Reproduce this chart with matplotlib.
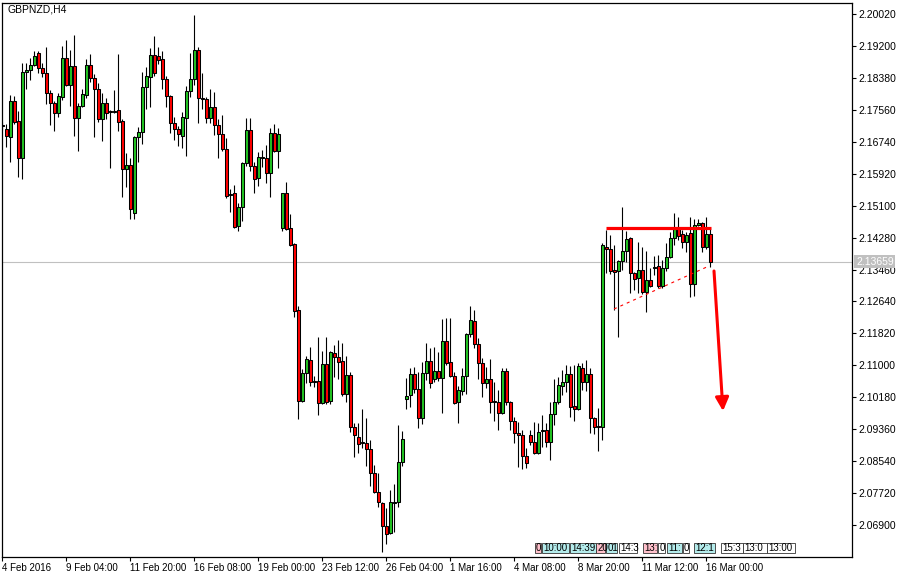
import numpy as np
import matplotlib
matplotlib.use("Agg")
import matplotlib.pyplot as plt
from matplotlib.patches import Rectangle
import matplotlib.transforms as mtransforms

plt.rcParams['font.family'] = ['Liberation Sans', 'DejaVu Sans']

# GBPNZD H4 candles (4 Feb 2016 .. 16 Mar 2016)
opens = [
    2.17170, 2.17067, 2.16862, 2.17786, 2.17273, 2.16323, 2.18531, 2.18582, 2.18710, 2.19018,
    2.18633, 2.18505, 2.17991, 2.17735, 2.17478, 2.17889, 2.18890, 2.18197, 2.18685, 2.17350,
    2.17658, 2.17940, 2.18710, 2.18377, 2.18094, 2.17324, 2.17735, 2.17529, 2.17504, 2.17555,
    2.17273, 2.16041, 2.16143, 2.14911, 2.16862, 2.16990, 2.18145, 2.18402, 2.18967, 2.18941,
    2.18864, 2.18351, 2.17914, 2.17221, 2.17067, 2.16888, 2.17350, 2.18043, 2.18351, 2.19095,
    2.17863, 2.17837, 2.17350, 2.17632, 2.17170, 2.16939, 2.16554, 2.15373, 2.15424, 2.14577,
    2.15065, 2.16194, 2.17041, 2.16117, 2.15809, 2.16323, 2.16323, 2.15938, 2.16965, 2.16502,
    2.14526, 2.15424, 2.14526, 2.14115, 2.12420, 2.10084, 2.10803, 2.11137, 2.10598, 2.10598,
    2.10033, 2.11034, 2.10084, 2.11316, 2.11214, 2.11111, 2.10264, 2.10752, 2.09417, 2.09160,
    2.09031, 2.09006, 2.08852, 2.08236, 2.07748, 2.07466, 2.06875, 2.06695, 2.07466, 2.07491,
    2.08518, 2.10136, 2.10238, 2.10777, 2.10392, 2.09648, 2.10803, 2.11111, 2.10649, 2.10854,
    2.10675, 2.11625, 2.11085, 2.10726, 2.10058, 2.10341, 2.10726, 2.11804, 2.12138, 2.11548,
    2.11060, 2.10546, 2.10649, 2.10084, 2.10058, 2.09776, 2.10854, 2.10058, 2.09571, 2.09263,
    2.09211, 2.08672, 2.09211, 2.09031, 2.08749, 2.09314, 2.09340, 2.09031, 2.09750, 2.10058,
    2.10469, 2.10572, 2.10777, 2.09956, 2.09879, 2.10931, 2.10572, 2.10777, 2.09648, 2.09442,
    2.09417, 2.14038, 2.13986, 2.13447, 2.13422, 2.13678, 2.13935, 2.14269, 2.13370, 2.13242,
    2.13447, 2.12883, 2.13191, 2.13499, 2.13550, 2.13037, 2.13499, 2.13781, 2.14269, 2.14500,
    2.14372, 2.14166, 2.14397, 2.13088, 2.14603, 2.14654, 2.14038, 2.14372,
]
highs = [
    2.17247, 2.17196, 2.17940, 2.17914, 2.17529, 2.18762, 2.18762, 2.18890, 2.19070, 2.19070,
    2.18762, 2.19172, 2.18068, 2.17786, 2.17991, 2.19198, 2.19352, 2.19095, 2.19481, 2.17735,
    2.18094, 2.18864, 2.18993, 2.18479, 2.18248, 2.17991, 2.17863, 2.17555, 2.18068, 2.18993,
    2.17324, 2.16451, 2.16323, 2.16888, 2.17118, 2.18531, 2.18659, 2.19147, 2.19455, 2.19172,
    2.19070, 2.18428, 2.17940, 2.17375, 2.17144, 2.17504, 2.18171, 2.19018, 2.19994, 2.19172,
    2.18505, 2.17889, 2.18094, 2.18017, 2.17324, 2.17427, 2.16836, 2.15527, 2.15630, 2.15167,
    2.16220, 2.17350, 2.17350, 2.16220, 2.16477, 2.16528, 2.16656, 2.17093, 2.17196, 2.17093,
    2.15424, 2.15707, 2.14885, 2.14140, 2.12523, 2.10906, 2.11239, 2.11471, 2.10726, 2.11727,
    2.11368, 2.11727, 2.11368, 2.11522, 2.11650, 2.11573, 2.11239, 2.10829, 2.09519, 2.09519,
    2.09879, 2.09648, 2.09083, 2.08441, 2.08236, 2.07491, 2.07337, 2.07799, 2.07953, 2.09468,
    2.09314, 2.10675, 2.10931, 2.10957, 2.10829, 2.11085, 2.11573, 2.11445, 2.11471, 2.11342,
    2.12189, 2.12215, 2.12215, 2.10829, 2.10469, 2.10931, 2.11830, 2.12523, 2.12420, 2.11702,
    2.11188, 2.10957, 2.11162, 2.10572, 2.10367, 2.10931, 2.10931, 2.10084, 2.09673, 2.09545,
    2.09340, 2.08878, 2.09340, 2.09545, 2.09519, 2.09725, 2.09519, 2.10058, 2.10649, 2.10700,
    2.10880, 2.11008, 2.10983, 2.11008, 2.11060, 2.11060, 2.11137, 2.10931, 2.09673, 2.09904,
    2.14140, 2.14474, 2.14346, 2.14089, 2.13704, 2.15065, 2.14449, 2.14295, 2.13396, 2.14166,
    2.14038, 2.13935, 2.13499, 2.13807, 2.13832, 2.13704, 2.14140, 2.14423, 2.14911, 2.14808,
    2.14474, 2.14423, 2.14808, 2.14757, 2.14757, 2.14680, 2.14808, 2.14526,
]
lows = [
    2.17041, 2.16605, 2.16220, 2.17196, 2.15835, 2.15784, 2.18094, 2.18325, 2.18685, 2.18505,
    2.18402, 2.17709, 2.17170, 2.17016, 2.17375, 2.17812, 2.18171, 2.17658, 2.16888, 2.16502,
    2.17632, 2.17863, 2.18274, 2.16862, 2.17247, 2.16759, 2.17324, 2.16066, 2.17478, 2.17016,
    2.15321, 2.15578, 2.14757, 2.14757, 2.16220, 2.16682, 2.17581, 2.17632, 2.18428, 2.18736,
    2.18094, 2.17632, 2.16965, 2.16785, 2.16631, 2.16579, 2.16374, 2.17889, 2.18197, 2.17221,
    2.17581, 2.17221, 2.17221, 2.16913, 2.16323, 2.16502, 2.15296, 2.14936, 2.14526, 2.14449,
    2.14705, 2.16117, 2.15989, 2.15424, 2.15604, 2.16092, 2.15681, 2.15321, 2.16477, 2.16066,
    2.14449, 2.14474, 2.14063, 2.12241, 2.09622, 2.10058, 2.10546, 2.10469, 2.10444, 2.09725,
    2.10007, 2.10007, 2.10007, 2.10700, 2.10649, 2.10213, 2.10058, 2.09288, 2.08646, 2.08749,
    2.08878, 2.08415, 2.07902, 2.07722, 2.07363, 2.06208, 2.06413, 2.06670, 2.06721, 2.07363,
    2.08415, 2.09879, 2.09930, 2.10290, 2.09391, 2.09494, 2.10623, 2.10418, 2.10572, 2.10598,
    2.09776, 2.11008, 2.10700, 2.10007, 2.09519, 2.10238, 2.10264, 2.11727, 2.11445, 2.10649,
    2.10187, 2.10418, 2.09776, 2.09571, 2.09340, 2.09750, 2.09981, 2.09340, 2.09006, 2.08390,
    2.08338, 2.08364, 2.08955, 2.08724, 2.08724, 2.08903, 2.08903, 2.08569, 2.09468, 2.10007,
    2.10238, 2.10315, 2.09673, 2.09571, 2.09853, 2.10367, 2.10341, 2.09263, 2.09237, 2.08801,
    2.09083, 2.13370, 2.13345, 2.12420, 2.11727, 2.13447, 2.13653, 2.12857, 2.12934, 2.12857,
    2.12831, 2.12369, 2.13011, 2.13319, 2.12985, 2.12985, 2.13422, 2.13755, 2.14089, 2.14218,
    2.14012, 2.13909, 2.12754, 2.12780, 2.14577, 2.13909, 2.13986, 2.13524,
]
closes = [
    2.17144, 2.16888, 2.17786, 2.17247, 2.16323, 2.18531, 2.18582, 2.18710, 2.18941, 2.18633,
    2.18505, 2.17991, 2.17735, 2.17478, 2.17914, 2.18890, 2.18197, 2.18685, 2.17350, 2.17658,
    2.17966, 2.18710, 2.18377, 2.18094, 2.17324, 2.17735, 2.17478, 2.17504, 2.17529, 2.17247,
    2.16041, 2.16143, 2.15013, 2.16862, 2.16990, 2.18145, 2.18428, 2.18967, 2.18505, 2.18839,
    2.18351, 2.17914, 2.17221, 2.17067, 2.16939, 2.17375, 2.18043, 2.18351, 2.19095, 2.17863,
    2.17837, 2.17350, 2.17632, 2.17170, 2.16939, 2.16554, 2.15347, 2.15398, 2.14551, 2.15065,
    2.16194, 2.17041, 2.16117, 2.15784, 2.16348, 2.16348, 2.15938, 2.16965, 2.16502, 2.16939,
    2.15424, 2.14500, 2.14089, 2.12395, 2.10084, 2.10803, 2.11162, 2.10572, 2.10572, 2.10033,
    2.11034, 2.10058, 2.11342, 2.11214, 2.11085, 2.10264, 2.10752, 2.09417, 2.09211, 2.08980,
    2.09006, 2.08852, 2.08236, 2.07748, 2.07491, 2.06875, 2.06670, 2.07491, 2.07491, 2.08518,
    2.09109, 2.10213, 2.10777, 2.10392, 2.09648, 2.10803, 2.11111, 2.10546, 2.10854, 2.10675,
    2.11625, 2.11060, 2.10726, 2.10033, 2.10367, 2.10726, 2.11804, 2.12164, 2.11548, 2.11060,
    2.10546, 2.10649, 2.10058, 2.10058, 2.09776, 2.10854, 2.10058, 2.09571, 2.09263, 2.09211,
    2.08672, 2.08492, 2.09031, 2.08749, 2.09288, 2.09340, 2.09031, 2.09750, 2.10058, 2.10495,
    2.10572, 2.10777, 2.09930, 2.09879, 2.10983, 2.10572, 2.10777, 2.09648, 2.09417, 2.09417,
    2.14089, 2.13986, 2.13422, 2.13396, 2.13678, 2.13935, 2.14243, 2.13370, 2.13216, 2.13447,
    2.12883, 2.13191, 2.13037, 2.13524, 2.13037, 2.13499, 2.13781, 2.14269, 2.14500, 2.14320,
    2.14166, 2.14346, 2.13088, 2.14603, 2.14654, 2.14038, 2.14372, 2.13659,
]

date_labels = ['4 Feb 2016', '9 Feb 04:00', '11 Feb 20:00', '16 Feb 08:00', '19 Feb 00:00',
               '23 Feb 12:00', '26 Feb 04:00', '1 Mar 16:00', '4 Mar 08:00', '8 Mar 20:00',
               '11 Mar 12:00', '16 Mar 00:00']
price_ticks = [2.06900, 2.07720, 2.08540, 2.09360, 2.10180, 2.11000, 2.11820, 2.12640, 2.13460,
               2.14280, 2.15100, 2.15920, 2.16740, 2.17560, 2.18380, 2.19200, 2.20020]
bid = 2.13659

# drawn objects (bar index, price)
resist_x = [151, 177.3]
resist_y = [2.14527, 2.14527]
trend_x = [153, 176.2]
trend_y = [2.12447, 2.13525]
arrow_from = (178.0, 2.13422)
arrow_to = (180.25, 2.09827)

# session time boxes at the bottom (left bar, right bar, text, colour)
time_boxes = [
    (133.2, 134.7, '0', '#ffc0cb'), (135.0, 141.7, '10:00', '#b4ecec'),
    (142.0, 148.5, '14:39', '#b4ecec'), (148.5, 150.7, '20', '#ffc0cb'),
    (151.0, 153.7, '01', '#b4ecec'), (154.2, 158.7, '14:3', 'white'),
    (160.2, 163.7, '13:', '#ffc0cb'), (164.0, 165.7, '0', 'white'),
    (166.2, 170.0, '11:', '#b4ecec'), (170.2, 171.7, '0', 'white'),
    (173.0, 178.2, '12:1', '#b4ecec'), (179.7, 185.2, '15:3', 'white'),
    (185.2, 191.2, '13:0', 'white'), (191.2, 198.2, '13:00', 'white'),
]

BULL = '#22c322'
BEAR = '#ff0000'

fig = plt.figure(figsize=(9.05, 5.78), dpi=100)
ax = fig.add_axes([2 / 905, 1 - 557 / 578, 850 / 905, 554 / 578])

o = np.array(opens)
h = np.array(highs)
l = np.array(lows)
c = np.array(closes)
x = np.arange(len(o))

ax.axhline(bid, color='#c0c0c0', lw=0.8, zorder=0.5)

# wicks and bodies
ax.vlines(x, l, h, color='black', lw=0.8, zorder=2)
body_lo = np.minimum(o, c)
body_h = np.maximum(np.abs(c - o), 0.00002)
cols = [BULL if cc >= oo else BEAR for oo, cc in zip(o, c)]
ax.bar(x, body_h, bottom=body_lo, width=0.75, color=cols, edgecolor='black',
       linewidth=0.75, zorder=3)

# resistance, trend and arrow
ax.plot(resist_x, resist_y, color='red', lw=2.3, solid_capstyle='butt', zorder=4)
ax.plot(trend_x, trend_y, color='red', lw=0.8, linestyle=(0, (2.7, 3.6)), zorder=4)
ax.annotate('', xy=arrow_to, xytext=arrow_from,
            arrowprops=dict(arrowstyle='-|>', color='red', lw=2.2, mutation_scale=20,
                            shrinkA=0, shrinkB=0), zorder=5)

ax.set_xlim(0, 212.5)
ax.set_ylim(2.06080, 2.20302)

# axes styling
for s in ax.spines.values():
    s.set_linewidth(0.9)
    s.set_color('black')
ax.yaxis.tick_right()
ax.set_yticks(price_ticks)
ax.set_yticklabels([f'{p:.5f}' for p in price_ticks])
ax.tick_params(axis='y', direction='out', length=3, width=0.8, labelsize=7.5, pad=1.5)
ax.set_xticks(np.arange(len(date_labels)) * 16)
ax.set_xticklabels(date_labels, ha='left')
ax.tick_params(axis='x', direction='out', length=3, width=0.8, labelsize=7, pad=1.5)

# current bid label
tr = mtransforms.blended_transform_factory(ax.transAxes, ax.transData)
ax.text(1.0 + 4 / 850, bid, f'{bid:.5f}', transform=tr, color='white', fontsize=7.5,
        va='center', ha='left',
        bbox=dict(boxstyle='square,pad=0.15', facecolor='#c0c0c0', edgecolor='none'),
        clip_on=False, zorder=6)

ax.text(5 / 850, 0.997, 'GBPNZD,H4', transform=ax.transAxes, fontsize=7.5,
        va='top', ha='left')

# time boxes
trb = mtransforms.blended_transform_factory(ax.transData, ax.transAxes)
for x0, x1, txt, fc in time_boxes:
    r = Rectangle((x0, 0.0072), x1 - x0, 0.0181, transform=trb, facecolor=fc,
                  edgecolor='#333333', lw=0.6, zorder=6)
    ax.add_patch(r)
    t = ax.text(x0 + 0.3, 0.0162, txt, transform=trb, fontsize=7, va='center',
                ha='left', zorder=7)
    t.set_clip_path(r)

fig.savefig('out.png', dpi=100)
